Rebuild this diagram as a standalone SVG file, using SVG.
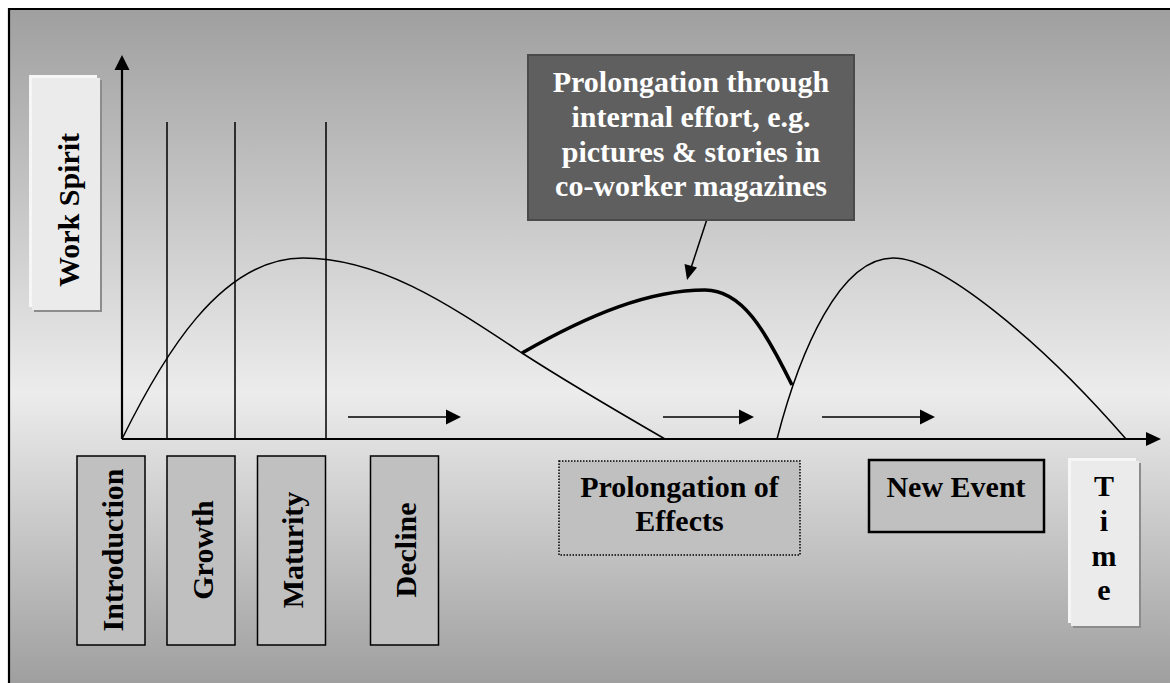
<svg xmlns="http://www.w3.org/2000/svg" width="1170" height="683" viewBox="0 0 1170 683">
  <defs>
    <linearGradient id="bg" x1="0" y1="0" x2="0" y2="1">
      <stop offset="0" stop-color="#9f9f9f"/>
      <stop offset="0.57" stop-color="#ececec"/>
      <stop offset="1" stop-color="#9f9f9f"/>
    </linearGradient>
    <marker id="ah" viewBox="0 0 10 10" refX="10" refY="5" markerWidth="8" markerHeight="8" markerUnits="userSpaceOnUse" orient="auto">
      <path d="M0,0 L10,5 L0,10 Z" fill="#000"/>
    </marker>
    <style>
      .t { font-family: "Liberation Serif", "Times New Roman", serif; font-weight: bold; font-size: 30px; fill: #000; }
      .tw { fill: #fff; }
      .phase { fill: #c0c0c0; stroke: #000; stroke-width: 1.5; }
      .ln { fill: none; stroke: #000; stroke-width: 1.5; }
      .ax { fill: none; stroke: #000; stroke-width: 2.2; }
      .lightA { fill: #f6f6f6; }
      .lightB { fill: #ebebeb; }
      .shadow { fill: #8c8c8c; }
    </style>
  </defs>

  <rect x="0" y="0" width="1170" height="683" fill="#fff"/>
  <rect x="8" y="8" width="1162" height="675" fill="url(#bg)"/>
  <path d="M9,683 L9,9 L1170,9" fill="none" stroke="#000" stroke-width="2.2"/>

  <g id="connectors">
    <!-- axes -->
    <path class="ax" d="M122,439 L122,69"/>
    <path d="M114.5,70 L122,55 L129.5,70 Z" fill="#000"/>
    <path class="ax" d="M122,439 L1147,439"/>
    <path d="M1146,432 L1161,439 L1146,446 Z" fill="#000"/>
    <!-- phase dividers -->
    <path class="ln" d="M167,122 L167,439 M235,122 L235,439 M326,122 L326,439"/>
    <!-- curves -->
    <path class="ln" d="M122,439 C162,358 220,258 303,258 C380,258 448,304 522,353 C570,384 620,413 665,439"/>
    <path d="M522,353 C590,314 650,290 705,290 C742,290 765,330 792,385" fill="none" stroke="#000" stroke-width="3.5"/>
    <path class="ln" d="M777,439 C800,350 840,258 893,258 C940,258 1040,340 1126,439"/>
    <!-- time arrows -->
    <path d="M348,417 L446,417" class="ln"/>
    <path d="M446,409.5 L461,417 L446,424.5 Z" fill="#000"/>
    <path d="M663,417 L740,417" class="ln"/>
    <path d="M739,409.5 L754,417 L739,424.5 Z" fill="#000"/>
    <path d="M822,417 L921,417" class="ln"/>
    <path d="M920,409.5 L935,417 L920,424.5 Z" fill="#000"/>
    <!-- callout arrow -->
    <path d="M709,213 L691,268" class="ln"/>
    <path d="M684.5,264 L687,280 L697,267.5 Z" fill="#000"/>
  </g>

  <g id="work-spirit">
    <rect class="shadow" x="34" y="80" width="68" height="232"/>
    <rect class="lightA" x="29" y="75" width="68" height="232"/>
    <rect class="lightB" x="32" y="78" width="68" height="232"/>
    <text class="t" text-anchor="middle" transform="translate(79,210) rotate(-90)">Work Spirit</text>
  </g>

  <g id="callout">
    <rect x="528" y="55" width="326" height="165" fill="#5f5f5f" stroke="#4a4a4a" stroke-width="2"/>
    <text class="t tw" text-anchor="middle" x="691" y="92">Prolongation through</text>
    <text class="t tw" text-anchor="middle" x="691" y="127">internal effort, e.g.</text>
    <text class="t tw" text-anchor="middle" x="691" y="162">pictures &amp; stories in</text>
    <text class="t tw" text-anchor="middle" x="691" y="196">co-worker magazines</text>
  </g>

  <g id="introduction">
    <rect class="phase" x="77" y="456" width="68" height="189"/>
    <text class="t" text-anchor="middle" transform="translate(122.5,550) rotate(-90)">Introduction</text>
  </g>
  <g id="growth">
    <rect class="phase" x="167" y="456" width="68" height="189"/>
    <text class="t" text-anchor="middle" transform="translate(213,550) rotate(-90)">Growth</text>
  </g>
  <g id="maturity">
    <rect class="phase" x="257.5" y="456" width="68" height="189"/>
    <text class="t" text-anchor="middle" transform="translate(303,550) rotate(-90)">Maturity</text>
  </g>
  <g id="decline">
    <rect class="phase" x="370.5" y="456" width="68" height="189"/>
    <text class="t" text-anchor="middle" transform="translate(416,550) rotate(-90)">Decline</text>
  </g>

  <g id="prolongation-of-effects">
    <rect x="559" y="461" width="241" height="94" fill="#c0c0c0" stroke="#000" stroke-width="1.5" stroke-dasharray="1.5,1.5"/>
    <text class="t" text-anchor="middle" x="679.5" y="497">Prolongation of</text>
    <text class="t" text-anchor="middle" x="679.5" y="531">Effects</text>
  </g>

  <g id="new-event">
    <rect x="869" y="460" width="175" height="72" fill="#c0c0c0" stroke="#000" stroke-width="2.5"/>
    <text class="t" text-anchor="middle" x="956" y="497">New Event</text>
  </g>

  <g id="time">
    <rect class="shadow" x="1073" y="463" width="68" height="165"/>
    <rect class="lightA" x="1068" y="458" width="68" height="165"/>
    <rect class="lightB" x="1071" y="461" width="68" height="165"/>
    <text class="t" text-anchor="middle" x="1104" y="496">T</text>
    <text class="t" text-anchor="middle" x="1104" y="531">i</text>
    <text class="t" text-anchor="middle" x="1104" y="566">m</text>
    <text class="t" text-anchor="middle" x="1104" y="600">e</text>
  </g>
</svg>
